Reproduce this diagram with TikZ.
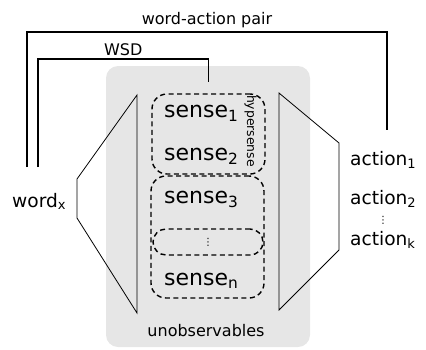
\documentclass[tikz,border=0pt]{standalone}
\usepackage{fontspec}
\setmainfont{DejaVu Sans}
\usetikzlibrary{positioning}
\definecolor{unobsgray}{HTML}{E6E6E6}

\begin{document}
\begin{tikzpicture}
[
x=1pt,y=-1pt,
sense/.style={font=\fontsize{22}{26}\selectfont,inner sep=0pt,anchor=base west},
item/.style={font=\fontsize{18.6}{22}\selectfont,inner sep=0pt,anchor=base west},
caption/.style={font=\fontsize{16}{19}\selectfont,inner sep=1pt},
tinydots/.style={font=\fontsize{10}{10}\selectfont,inner sep=0pt},
sensebox/.style 2 args={draw,line width=1.4pt,dash pattern=on 5pt off 3.5pt,
            rounded corners=#2,minimum width=#1,inner sep=0pt},
link/.style={draw,line width=1.5pt},
funnel/.style={draw,line width=0.8pt,line join=miter},
]
\useasboundingbox (0,0) rectangle (426,349);

%Background of hidden part
\fill[unobsgray,rounded corners=12pt] (106,66) rectangle (310,347);
\node[caption] (unobs) at (206,331) {unobservables};

%Funnels
\draw[funnel] (77,179) -- (137,95) -- (137,313) -- (77,218) -- cycle;
\draw[funnel] (279,93) -- (339,143) -- (339,250) -- (279,310) -- cycle;

%Place the nodes
\node[item] (word) at (12,207) {word\textsubscript{x}};

\node[sense] (s1) at (164,117) {sense\textsubscript{1}};
\node[sense] (s2) at (164,160) {sense\textsubscript{2}};
\node[sense] (s3) at (164,203) {sense\textsubscript{3}};
\node[sense] (sn) at (164,285) {sense\textsubscript{n}};

\node[sensebox={113pt}{15pt},minimum height=80pt] (hyper) at (208.5,134) {};
\node[font=\fontsize{12.4}{14}\selectfont,inner sep=0pt,rotate=-90] (hyperlbl) at (250.5,131) {hypersense};
\node[sensebox={113pt}{15pt},minimum height=122pt] (rest) at (207.5,237) {};
\node[sensebox={110pt}{13pt},minimum height=26pt,tinydots] (dotbox) at (208,242) {⋮};

\node[item] (a1) at (350,165) {action\textsubscript{1}};
\node[item] (a2) at (350,204) {action\textsubscript{2}};
\node[tinydots] (adots) at (383,220) {⋮};
\node[item] (ak) at (350,245) {action\textsubscript{k}};

%Draw the connections
\coordinate (pairtop) at (0,32);
\coordinate (wsdtop) at (0,59);
\coordinate (pairL) at (27,167);
\coordinate (wsdL) at (38,167);
\coordinate (pairR) at (387,130);

\draw[link] (pairL) -- (pairL |- pairtop)
      -- node[caption,above=2pt] (pairlbl) {word-action pair} (pairR |- pairtop) -- (pairR);
\draw[link] (wsdL) -- (wsdL |- wsdtop)
      -- node[caption,above=2pt] (wsdlbl) {WSD} (hyper.north |- wsdtop) -- ([yshift=11pt]hyper.north);
\end{tikzpicture}
\end{document}
